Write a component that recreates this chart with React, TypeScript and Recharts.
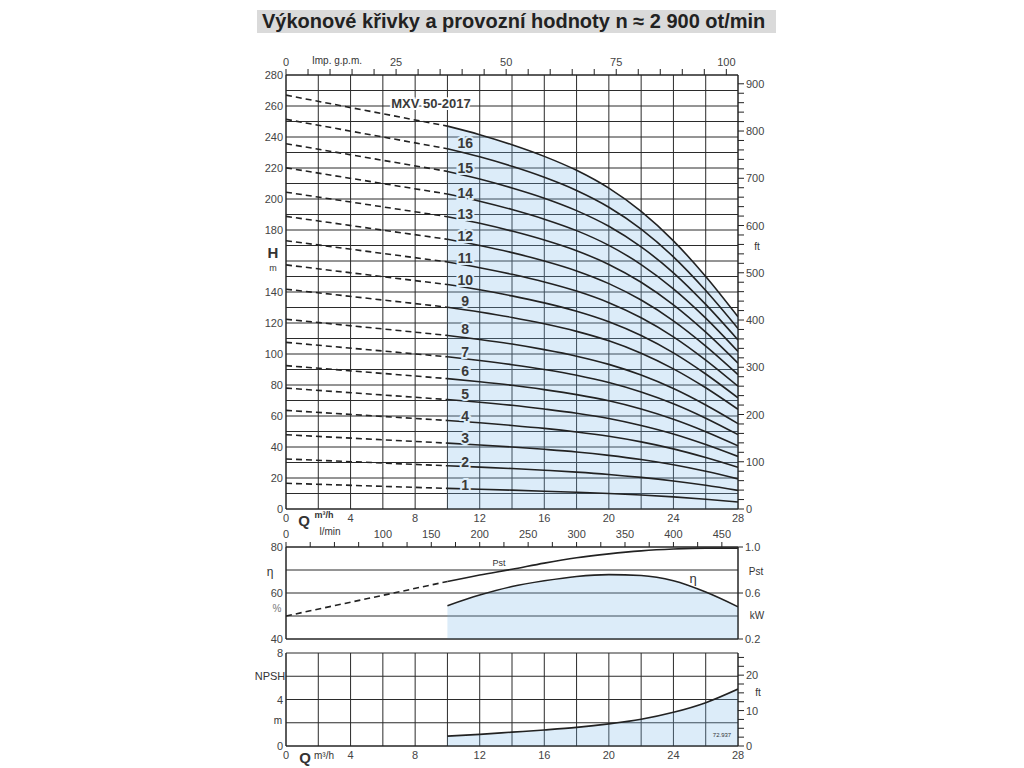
import React from 'react';
import { ComposedChart, Line, Area, Scatter, XAxis, YAxis, CartesianGrid } from 'recharts';

// flow points (m3/h) where the head curves were read
const qPoints = [0, 10, 12, 14, 16, 18, 20, 22, 24, 26, 28];

// head H (m) for each number of stages, at qPoints
const stage1 = [16.6, 13.3, 12.75, 12.15, 11.5, 10.8, 10.0, 9.0, 7.8, 6.3, 4.5];
const stage2 = [32.3, 27.9, 27.0, 26.1, 25.0, 23.8, 22.3, 20.4, 18.1, 15.3, 12.0];
const stage3 = [47.9, 42.5, 41.3, 40.0, 38.5, 36.8, 34.6, 31.9, 28.5, 24.3, 19.4];
const stage4 = [63.6, 57.1, 55.6, 53.9, 52.0, 49.7, 46.9, 43.3, 38.8, 33.2, 26.9];
const stage5 = [78.0, 70.6, 68.9, 66.9, 64.5, 61.8, 58.4, 53.9, 48.4, 41.6, 33.9];
const stage6 = [92.5, 84.1, 82.1, 79.8, 77.0, 73.8, 69.8, 64.5, 57.9, 49.9, 40.8];
const stage7 = [107.5, 98.2, 95.8, 93.1, 90.0, 86.3, 81.6, 75.5, 67.9, 58.6, 48.0];
const stage8 = [122.4, 112.0, 109.4, 106.4, 102.8, 98.6, 93.3, 86.4, 77.7, 67.1, 55.1];
const stage9 = [141.8, 130.2, 127.1, 123.6, 119.5, 114.6, 108.5, 100.5, 90.4, 78.2, 64.3];
const stage10 = [157.5, 144.8, 141.4, 137.5, 133.0, 127.6, 120.8, 111.9, 100.7, 87.1, 71.7];
const stage11 = [173.1, 159.4, 155.7, 151.4, 146.5, 140.6, 133.1, 123.4, 111.1, 96.1, 79.2];
const stage12 = [188.8, 174.0, 170.0, 165.4, 160.0, 153.6, 145.4, 134.8, 121.4, 105.1, 86.7];
const stage13 = [204.4, 188.6, 184.3, 179.3, 173.5, 166.6, 157.8, 146.3, 131.7, 114.1, 94.1];
const stage14 = [220.1, 203.2, 198.6, 193.2, 187.0, 179.6, 170.1, 157.7, 142.0, 123.1, 101.6];
const stage15 = [235.7, 217.8, 212.9, 207.1, 200.5, 192.5, 182.4, 169.1, 152.4, 132.0, 109.1];
const stage16 = [251.4, 232.4, 227.2, 221.1, 214.0, 205.5, 194.7, 180.6, 162.7, 141.0, 116.5];
const stage17 = [267, 247, 241.5, 235, 227.5, 218.5, 207, 192, 173, 150, 124];

const stages = [stage1, stage2, stage3, stage4, stage5, stage6, stage7, stage8, stage9,
  stage10, stage11, stage12, stage13, stage14, stage15, stage16, stage17];

// curve numbers written next to the curves
const stageLabels = ['1', '2', '3', '4', '5', '6', '7', '8', '9', '10', '11', '12', '13', '14', '15', '16'];
const stageLabelH = [15.7, 30.5, 46, 60.2, 74.4, 89.2, 101.5, 116.3, 134.4, 147.9, 162.1, 176.3, 190.5, 204, 220.2, 236.3];

// efficiency eta (%) and power Pst (kW)
const effQ = [10, 12, 14, 16, 18, 20, 22, 24, 26, 28];
const efficiency = [54.5, 59.1, 62.8, 65.3, 67.2, 68.0, 67.6, 65.3, 60.4, 54.0];
const powerQ = [0, 10, 12, 14, 16, 18, 20, 22, 24, 26, 28];
const power = [0.40, 0.70, 0.756, 0.806, 0.86, 0.906, 0.94, 0.966, 0.982, 0.99, 0.99];

// NPSH (m)
const npshQ = [10, 12, 14, 16, 18, 20, 22, 24, 26, 28];
const npsh = [0.85, 1.0, 1.19, 1.38, 1.6, 1.9, 2.3, 2.9, 3.73, 4.9];

// axes
const qTicks = [0, 2, 4, 6, 8, 10, 12, 14, 16, 18, 20, 22, 24, 26, 28];
const qLabels = [0, 4, 8, 12, 16, 20, 24, 28];
const hTicks = Array.from({ length: 29 }, (_, i) => i * 10);
const hLabels = [0, 20, 40, 60, 80, 100, 120, 140, 180, 200, 220, 240, 260, 280];
const ftTicks = Array.from({ length: 46 }, (_, i) => i * 20);
const ftLabels = [0, 100, 200, 300, 400, 500, 600, 700, 800, 900];
const gpmTicks = Array.from({ length: 21 }, (_, i) => i * 5);
const gpmLabels = [0, 25, 50, 75, 100];
const lminTicks = Array.from({ length: 19 }, (_, i) => i * 25);
const lminLabels = [0, 100, 150, 200, 250, 300, 350, 400, 450];
const etaTicks = [40, 50, 60, 70, 80];
const etaLabels = [40, 60, 80];
const pstTicks = [0.2, 0.6, 1.0];
const npshTicks = [0, 2, 4, 6, 8];
const npshLabels = [0, 4, 8];
const npshFtTicks = Array.from({ length: 11 }, (_, i) => i * 2.5);
const npshFtLabels = [0, 10, 20];

const M3H_PER_GPM = 0.27277;
const LMIN_PER_M3H = 16.6667;

const headRows = qPoints.map((q, i) => {
  const row: any = { q };
  stages.forEach((arr, k) => {
    if (q <= 10) row['d' + (k + 1)] = arr[i];
    if (q >= 10) row['s' + (k + 1)] = arr[i];
  });
  return row;
});
const labelRows = stageLabels.map((t, i) => ({ q: 11.1, h: stageLabelH[i], t }));
const modelRows = [{ q: 8.98, h: 262, t: 'MXV 50-2017' }];

const perfRows = powerQ.map((q, i) => {
  const e = effQ.indexOf(q);
  return {
    q,
    pd: q <= 10 ? power[i] : undefined,
    ps: q >= 10 ? power[i] : undefined,
    eta: e >= 0 ? efficiency[e] : undefined,
  };
});
const npshRows = npshQ.map((q, i) => ({ q, n: npsh[i] }));

const INK = '#222';
const GRID = '#2b2b2b';
const BLUE = '#78b4e6';
const BLUE_OP = 0.26;
const LABEL = '#444';

const pick = (labels: number[], fmt?: (v: number) => string, anchor = 'middle', dy = 0) => (p: any) => {
  const v = p.payload.value;
  if (!labels.some((l) => Math.abs(l - v) < 1e-6)) return <g />;
  return (
    <text x={p.x} y={p.y} dy={dy} textAnchor={anchor} fontSize={11} fill={LABEL}>
      {fmt ? fmt(v) : v}
    </text>
  );
};

const Txt = ({ x, y, size = 11, bold = false, color = '#333', children }: any) => (
  <div style={{
    position: 'absolute', left: x, top: y, transform: 'translate(-50%, -50%)',
    fontSize: size, fontWeight: bold ? 'bold' : 'normal', color, whiteSpace: 'nowrap', lineHeight: 1,
  }}>{children}</div>
);

const curve = (key: string, dashed: boolean) => (
  <Line key={key} xAxisId="q" yAxisId="h" dataKey={key} type={dashed ? 'linear' : 'monotone'}
    stroke={INK} strokeWidth={1.6} strokeDasharray={dashed ? '6 4' : undefined}
    dot={false} activeDot={false} isAnimationActive={false} connectNulls={false} />
);

export default function App() {
  return (
    <div style={{
      position: 'absolute', left: 0, top: 0, width: 1024, height: 768, background: '#fff',
      fontFamily: '"Liberation Sans", Arial, sans-serif', overflow: 'hidden',
    }}>
      <div style={{
        position: 'absolute', left: 257, top: 10, width: 519, height: 23, background: '#dadada',
        fontSize: 20, fontWeight: 'bold', color: '#222', lineHeight: '23px', paddingLeft: 5, boxSizing: 'border-box',
        whiteSpace: 'nowrap',
      }}>
        Výkonové křivky a provozní hodnoty n ≈ 2 900 ot/min
      </div>

      {/* H-Q curves */}
      <div style={{ position: 'absolute', left: 0, top: 0 }}>
        <ComposedChart width={1024} height={530} data={headRows} margin={{ top: 55, right: 226, bottom: 0, left: 0 }}>
          <CartesianGrid xAxisId="q" yAxisId="h" stroke={GRID} strokeWidth={1} />
          <XAxis xAxisId="q" dataKey="q" type="number" domain={[0, 28]} ticks={qTicks} interval={0}
            height={21} tickLine={false} tickSize={0} tickMargin={4} axisLine={{ stroke: INK }}
            tick={pick(qLabels, undefined, 'middle', 9)} allowDataOverflow />
          <XAxis xAxisId="gpm" dataKey={(r: any) => r.q / M3H_PER_GPM} type="number" domain={[0, 28 / M3H_PER_GPM]}
            ticks={gpmTicks} interval={0}
            orientation="top" height={20} tickSize={6} tickMargin={2} tickLine={{ stroke: INK }}
            axisLine={{ stroke: INK }} tick={pick(gpmLabels, undefined, 'middle', -1)} allowDataOverflow />
          <YAxis yAxisId="h" type="number" domain={[0, 280]} ticks={hTicks} interval={0} width={286}
            tickLine={false} tickSize={0} tickMargin={3} axisLine={{ stroke: INK }}
            tick={pick(hLabels, undefined, 'end', 4)} allowDataOverflow />
          <YAxis yAxisId="ft" orientation="right" type="number" domain={[0, 918.6]} ticks={ftTicks} interval={0}
            width={60} tickSize={6} tickMargin={2} tickLine={{ stroke: INK }} axisLine={{ stroke: INK }}
            tick={pick(ftLabels, undefined, 'start', 4)} allowDataOverflow />
          <Area xAxisId="q" yAxisId="h" dataKey="s17" type="monotone" stroke="none" fill={BLUE}
            fillOpacity={BLUE_OP} isAnimationActive={false} baseValue={0} />
          {stages.map((_, k) => curve('d' + (k + 1), true))}
          {stages.map((_, k) => curve('s' + (k + 1), false))}
          <Scatter xAxisId="q" yAxisId="h" data={labelRows} dataKey="h" isAnimationActive={false}
            shape={(p: any) => (
              <text x={p.cx} y={p.cy} dy={5} textAnchor="middle" fontSize={14} fontWeight="bold"
                fill="#3a3a3a" stroke="#dcedf9" strokeWidth={4} paintOrder="stroke">{p.payload.t}</text>
            )} />
          <Scatter xAxisId="q" yAxisId="h" data={modelRows} dataKey="h" isAnimationActive={false}
            shape={(p: any) => (
              <text x={p.cx} y={p.cy} dy={5} textAnchor="middle" fontSize={13} fontWeight="bold"
                fill="#3a3a3a" stroke="#fff" strokeWidth={4} paintOrder="stroke">{p.payload.t}</text>
            )} />
        </ComposedChart>
      </div>

      {/* efficiency and power */}
      <div style={{ position: 'absolute', left: 0, top: 520 }}>
        <ComposedChart width={1024} height={132} data={perfRows} margin={{ top: 0, right: 226, bottom: 0, left: 0 }}>
          <CartesianGrid xAxisId="q" yAxisId="eta" stroke={GRID} strokeWidth={1} />
          <XAxis xAxisId="q" dataKey="q" type="number" domain={[0, 28]} ticks={qTicks} interval={0}
            height={13} tick={false} tickLine={false} axisLine={{ stroke: INK }} allowDataOverflow />
          <XAxis xAxisId="lmin" dataKey={(r: any) => r.q * LMIN_PER_M3H} type="number" domain={[0, 28 * LMIN_PER_M3H]}
            ticks={lminTicks} interval={0}
            orientation="top" height={27} tickSize={5} tickMargin={3} tickLine={{ stroke: INK }}
            axisLine={{ stroke: INK }} tick={pick(lminLabels, undefined, 'middle', -1)} allowDataOverflow />
          <YAxis yAxisId="eta" type="number" domain={[40, 80]} ticks={etaTicks} interval={0} width={286}
            tickLine={false} tickSize={0} tickMargin={3} axisLine={{ stroke: INK }}
            tick={pick(etaLabels, undefined, 'end', 4)} allowDataOverflow />
          <YAxis yAxisId="p" orientation="right" type="number" domain={[0.2, 1.0]} ticks={pstTicks} interval={0}
            width={60} tickSize={5} tickMargin={2} tickLine={{ stroke: INK }} axisLine={{ stroke: INK }}
            tick={pick(pstTicks, (v) => v.toFixed(1), 'start', 4)} allowDataOverflow />
          <Area xAxisId="q" yAxisId="eta" dataKey="eta" type="monotone" stroke="none" fill={BLUE}
            fillOpacity={BLUE_OP} isAnimationActive={false} />
          <Line xAxisId="q" yAxisId="eta" dataKey="eta" type="monotone" stroke={INK} strokeWidth={1.6}
            dot={false} activeDot={false} isAnimationActive={false} />
          <Line xAxisId="q" yAxisId="p" dataKey="pd" type="linear" stroke={INK} strokeWidth={1.6}
            strokeDasharray="6 4" dot={false} activeDot={false} isAnimationActive={false} />
          <Line xAxisId="q" yAxisId="p" dataKey="ps" type="monotone" stroke={INK} strokeWidth={1.6}
            dot={false} activeDot={false} isAnimationActive={false} />
        </ComposedChart>
      </div>

      {/* NPSH */}
      <div style={{ position: 'absolute', left: 0, top: 645 }}>
        <ComposedChart width={1024} height={121} data={npshRows} margin={{ top: 8, right: 226, bottom: 0, left: 0 }}>
          <CartesianGrid xAxisId="q" yAxisId="n" stroke={GRID} strokeWidth={1} />
          <XAxis xAxisId="q" dataKey="q" type="number" domain={[0, 28]} ticks={qTicks} interval={0}
            height={20} tickLine={false} tickSize={0} tickMargin={4} axisLine={{ stroke: INK }}
            tick={pick(qLabels, undefined, 'middle', 9)} allowDataOverflow />
          <YAxis yAxisId="n" type="number" domain={[0, 8]} ticks={npshTicks} interval={0} width={286}
            tickLine={false} tickSize={0} tickMargin={3} axisLine={{ stroke: INK }}
            tick={pick(npshLabels, undefined, 'end', 4)} allowDataOverflow />
          <YAxis yAxisId="ft" orientation="right" type="number" domain={[0, 26.25]} ticks={npshFtTicks} interval={0}
            width={60} tickSize={6} tickMargin={2} tickLine={{ stroke: INK }} axisLine={{ stroke: INK }}
            tick={pick(npshFtLabels, undefined, 'start', 4)} allowDataOverflow />
          <Area xAxisId="q" yAxisId="n" dataKey="n" type="monotone" stroke="none" fill={BLUE}
            fillOpacity={BLUE_OP} isAnimationActive={false} baseValue={0} />
          <Line xAxisId="q" yAxisId="n" dataKey="n" type="monotone" stroke={INK} strokeWidth={1.6}
            dot={false} activeDot={false} isAnimationActive={false} />
        </ComposedChart>
      </div>

      {/* axis captions */}
      <Txt x={337} y={61} size={10}>Imp. g.p.m.</Txt>
      <Txt x={273} y={252} size={15} bold>H</Txt>
      <Txt x={273} y={268} size={9}>m</Txt>
      <Txt x={757} y={247} size={10}>ft</Txt>
      <Txt x={304} y={520} size={15} bold>Q</Txt>
      <Txt x={324} y={515} size={9} bold>m³/h</Txt>
      <Txt x={330} y={532} size={10}>l/min</Txt>
      <Txt x={270} y={572} size={12}>η</Txt>
      <Txt x={277} y={609} size={10} color="#777">%</Txt>
      <Txt x={756} y={572} size={10}>Pst</Txt>
      <Txt x={757} y={616} size={10}>kW</Txt>
      <Txt x={499} y={563} size={9}>Pst</Txt>
      <Txt x={693} y={578} size={13}>η</Txt>
      <Txt x={270} y={676} size={11}>NPSH</Txt>
      <Txt x={278} y={721} size={10}>m</Txt>
      <Txt x={758} y={693} size={10}>ft</Txt>
      <Txt x={305} y={757} size={15} bold>Q</Txt>
      <Txt x={324} y={756} size={10}>m³/h</Txt>
      <Txt x={722} y={735} size={6}>72.937</Txt>
    </div>
  );
}
